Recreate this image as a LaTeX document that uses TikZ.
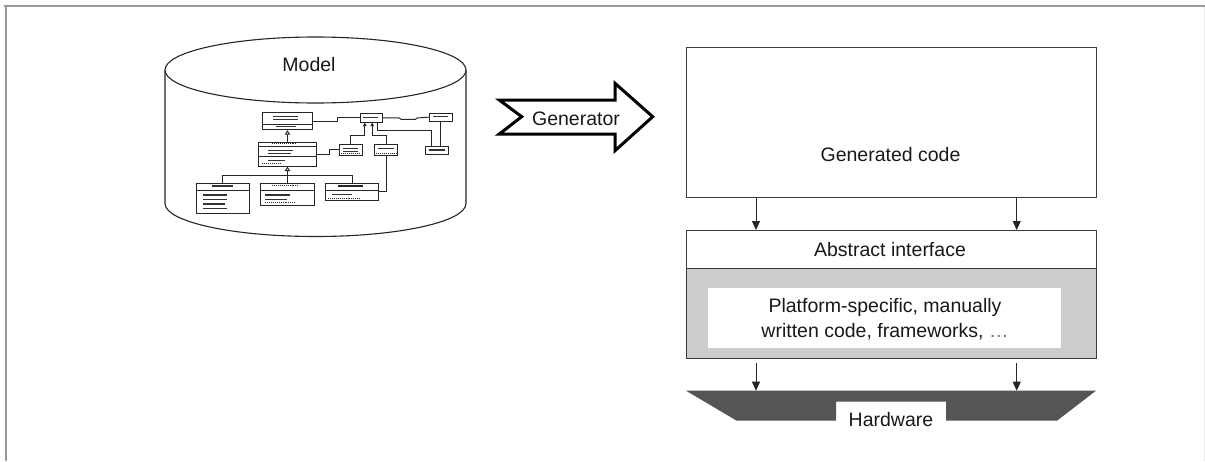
\documentclass[tikz,border=0pt]{standalone}
\usepackage{fontspec}
\setmainfont{Liberation Sans}
\usetikzlibrary{arrows.meta}
\definecolor{framegray}{HTML}{9A9A9A}
\definecolor{boxline}{HTML}{3C3C3C}
\definecolor{layergray}{HTML}{CCCCCC}
\definecolor{hwdark}{HTML}{555555}

\begin{document}
\begin{tikzpicture}[x=1pt,y=-1pt,
  lbl/.style={font=\fontsize{19.5}{25}\selectfont, inner sep=0pt, align=center, text=black!90},
  layer/.style={draw=boxline, line width=1.3pt, inner sep=0pt, anchor=north west},
  down/.style={-{Triangle[length=9pt,width=8pt]}, line width=1pt, draw=black!85},
  uml/.style={draw=black!85, line width=0.9pt, fill=white, inner sep=0pt, anchor=north west},
  bar/.style={line width=1.2pt, draw=black!80},
  link/.style={line width=0.95pt, draw=black!85},
  inherit/.style={link, -{Triangle[open, length=4.5pt, width=5.5pt]}},
  assoc/.style={link, -{Triangle[length=3.5pt, width=3.4pt]}},
]
\useasboundingbox (0,0) rectangle (1205,461);

% page frame
\draw[framegray, line width=2.4pt] (4,6.2) -- (1205,6.2);
\draw[framegray, line width=1.8pt] (6.2,6.2) -- (6.2,461);
\draw[black!8, line width=1pt] (1204.3,7) -- (1204.3,461);

% ---------- model repository (cylinder) ----------
\draw[line width=1.1pt, draw=black!85, fill=white]
  (165,70) -- (165,203.5) arc[start angle=180, end angle=0, x radius=150.5, y radius=33] -- (466,70);
\draw[line width=1.1pt, draw=black!85, fill=white] (315.5,70) ellipse[x radius=150.5, y radius=33];
\node[lbl] (model) at (309,65) {Model};

% class diagram inside the repository
\node[uml, minimum width=50.6pt, minimum height=17pt]   (ua) at (261.7,112.3) {};
\node[uml, minimum width=57.4pt, minimum height=24pt]   (ub) at (258.3,141.7) {};
\node[uml, minimum width=53.6pt, minimum height=30pt]   (uc) at (195.7,182.7) {};
\node[uml, minimum width=54pt,   minimum height=22.3pt] (ud) at (260,182.7) {};
\node[uml, minimum width=53.3pt, minimum height=17.3pt] (ue) at (325,182.7) {};
\node[uml, minimum width=22.3pt, minimum height=8.4pt]  (uf) at (360,113.3) {};
\node[uml, minimum width=22.4pt, minimum height=8pt]    (ug) at (429.3,112.7) {};
\node[uml, minimum width=23.3pt, minimum height=8.6pt]  (uh) at (425,145.7) {};
\node[uml, minimum width=22.4pt, minimum height=11pt]   (ui) at (339.3,144) {};
\node[uml, minimum width=23pt,   minimum height=11pt]   (uj) at (374.3,144) {};

% compartments and member lines
\draw[link] (261.7,124) -- (312.3,124);
\draw[bar] (273,116.8) -- (298,116.8) (273,119.6) -- (298,119.6) (276,126.7) -- (296,126.7);
\draw[link] (258.3,146) -- (315.7,146) (258.3,156.7) -- (315.7,156.7);
\draw[bar] (268,150.5) -- (293,150.5) (268,153.4) -- (291,153.4) (268,160.5) -- (285,160.5);
\draw[link, densely dotted] (272,143.8) -- (296,143.8) (262,163.7) -- (280,163.7);
\draw[link] (195.7,190) -- (249.3,190);
\draw[bar] (211.7,186) -- (233.3,186);
\draw[bar] (203,195) -- (227,195) (203,199.5) -- (227,199.5) (203,204) -- (225,204) (203,208.3) -- (227,208.3);
\draw[link] (260,190) -- (314,190);
\draw[bar] (265,195) -- (290,195) (265,199.8) -- (287,199.8);
\draw[link, densely dotted] (272,185.6) -- (298,185.6) (265,202.8) -- (295,202.8);
\draw[link] (325,190) -- (378.3,190);
\draw[line width=1.6pt, draw=black!85] (338,185.8) -- (363,185.8);
\draw[bar] (331.7,194.5) -- (351.7,194.5);
\draw[link, densely dotted] (328,198) -- (360,198);
\draw[bar] (363,117.5) -- (378,117.5);
\draw[bar] (433,116.7) -- (448,116.7);
\draw[bar] (428.5,150) -- (444.5,150);
\draw[bar] (343,148.8) -- (358,148.8) (343,151.4) -- (358,151.4);
\draw[bar] (378,148.8) -- (394,148.8);
\draw[link, densely dotted] (341,153.5) -- (360,153.5) (376,153.5) -- (396,153.5);

% relations
\draw[inherit] (ub.north) -- (ua.south);
\draw[inherit] (ud.north) -- (ub.south);
\draw[link] (uc.north) -- ++(0,-7.7) -| (ue.north);
\draw[link] (ua.east) -- ++(24.4,0) |- (uf.west);
\draw[link] (uf.east) -- ++(16,0) -- ++(2,1.5) -- ++(14,0) -- ++(2,-1.5) -- (ug.west);
\draw[link] (ug.south) -- (ug.south |- uh.north);
\draw[link] ([xshift=-5.6pt]uf.south east) -- ++(0,8.3) -| ([xshift=6.7pt]uh.north west);
\draw[assoc] (ui.north) -- ++(0,-9) -| ([xshift=-6.8pt]uf.south);
\draw[assoc] (uj.north) -- ++(0,-9) -| ([xshift=0.6pt]uf.south);
\draw[link] (ub.east) -- ++(12.6,0) |- (ui.west);
\draw[link] (uj.south) |- (ue.east);

% ---------- generator arrow ----------
\draw[line width=3pt, draw=black, fill=white, line join=miter]
  (499.3,100) -- (615,100) -- (615,83.3) -- (652.7,116.7) -- (615,150.7)
  -- (615,134) -- (499.3,134) -- (521.7,116.7) -- cycle;
\node[lbl] (gentag) at (576,118.3) {Generator};

% ---------- layered target platform ----------
\node[layer, fill=white, minimum width=410.5pt, minimum height=150pt] (gen) at (685.5,47) {};
\node[lbl] (gentxt) at (890.5,155) {Generated code};

\node[layer, fill=white, minimum width=410pt, minimum height=37.7pt] (ai) at (686,230) {};
\node[lbl] (aitxt) at (890,250) {Abstract interface};

\node[layer, fill=layergray, minimum width=410pt, minimum height=90pt] (plat) at (686,267.7) {};
\node[fill=white, inner sep=0pt, anchor=north west, minimum width=353pt, minimum height=59.6pt] (pin) at (708,287.7) {};
\node[lbl] (pintxt) at (885,319.5) {Platform-specific, manually\\written code, frameworks, \textcolor{black!55}{…}};

% hardware base with label notch
\fill[hwdark] (686,390.7) -- (1096,390.7) -- (1057,420.7) -- (946,420.7) -- (946,401.7)
  -- (836,401.7) -- (836,420.7) -- (736.7,420.7) -- cycle;
\coordinate (hwtop) at (686,390.7);
\node[lbl] (hwtxt) at (891,419.5) {Hardware};

% dependency arrows between the layers
\coordinate (colL) at (756,0);
\coordinate (colR) at (1016.7,0);
\draw[down] (gen.south -| colL) -- (ai.north -| colL);
\draw[down] (gen.south -| colR) -- (ai.north -| colR);
\draw[down, shorten <=4pt] (plat.south -| colL) -- (hwtop -| colL);
\draw[down, shorten <=4pt] (plat.south -| colR) -- (hwtop -| colR);
\end{tikzpicture}
\end{document}
